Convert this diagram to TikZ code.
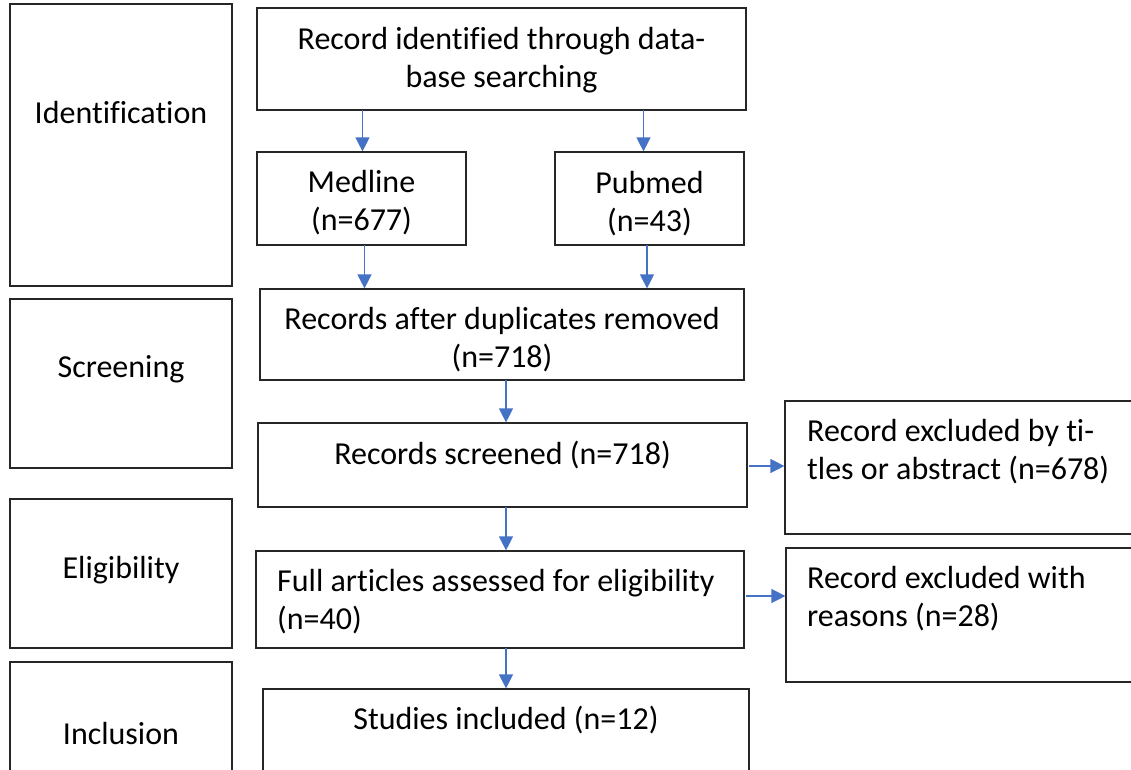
\documentclass[tikz,border=0pt]{standalone}
\usepackage{fontspec}
\setmainfont[Ligatures=NoCommon]{Carlito}
\usetikzlibrary{arrows.meta,calc}
\begin{document}
\begin{tikzpicture}[x=1pt,y=-1pt,
  box/.style={draw=black!85,line width=1.2pt,inner sep=0pt,fill=none},
  txt/.style={inner sep=0pt,font=\fontsize{32}{38}\selectfont,align=center},
  ltxt/.style={inner sep=0pt,font=\fontsize{32}{38}\selectfont,align=left,anchor=west},
  arr/.style={draw={rgb,255:red,68;green,114;blue,196},line width=1.3pt,
    -{Triangle[width=14pt,length=14pt]}}]
\useasboundingbox (0,0) rectangle (1131,769);
% phase boxes
\node[box,minimum width=222pt,minimum height=282pt] (idb) at (121,145) {};
\node[box,minimum width=222pt,minimum height=169pt] (scb) at (121,383.5) {};
\node[box,minimum width=222pt,minimum height=149pt] (elb) at (121,573.5) {};
\node[box,minimum width=222pt,minimum height=138pt] (inb) at (121,731) {};
\node[txt] (idt) at (121,113) {Identification};
\node[txt] (sct) at (121,369) {Screening};
\node[txt] (elt) at (121,570) {Eligibility};
\node[txt] (int) at (121,733) {Inclusion};
% flow boxes
\node[box,minimum width=489pt,minimum height=102pt] (top) at (501.5,59) {};
\node[box,minimum width=209pt,minimum height=93pt] (med) at (361.5,198.5) {};
\node[box,minimum width=189pt,minimum height=93pt] (pub) at (649.5,198.5) {};
\node[box,minimum width=484pt,minimum height=91pt] (recs) at (502,334.5) {};
\node[box,minimum width=489pt,minimum height=84pt] (scr) at (502.5,465) {};
\node[box,minimum width=360pt,minimum height=133pt] (ex1) at (965,467.5) {};
\node[box,minimum width=488pt,minimum height=97pt] (full) at (500,599.5) {};
\node[box,minimum width=359pt,minimum height=134pt] (ex2) at (965.5,615) {};
\node[box,minimum width=486pt,minimum height=111pt] (stu) at (506,744.5) {};
% texts
\node[txt] (topt) at (501.5,60) {Record identified through data-\\base searching};
\node[txt] (medt) at (361.5,203) {Medline\\(n=677)};
\node[txt] (pubt) at (649.5,204) {Pubmed\\(n=43)};
\node[txt] (recst) at (502,340) {Records after duplicates removed\\(n=718)};
\node[txt] (scrt) at (502.5,455) {Records screened (n=718)};
\node[ltxt] (ex1t) at (807,452) {Record excluded by ti-\\tles or abstract (n=678)};
\node[ltxt] (fullt) at (277,602) {Full articles assessed for eligibility\\(n=40)};
\node[ltxt] (ex2t) at (807,599) {Record excluded with\\reasons (n=28)};
\node[txt] (stut) at (506,720) {Studies included (n=12)};
% connector coordinates
\coordinate (a1) at (362.5,110);
\coordinate (a2) at (643.5,110);
\coordinate (a3) at (364.5,245);
\coordinate (a4) at (647,245);
\draw[arr] (a1) -- (a1 |- med.north);
\draw[arr] (a2) -- (a2 |- pub.north);
\draw[arr] (a3) -- (a3 |- recs.north);
\draw[arr] (a4) -- (a4 |- recs.north);
\coordinate (b1) at (506,380);
\coordinate (b2) at (506,507);
\coordinate (b3) at (506,648);
\draw[arr] (b1) -- (b1 |- scr.north);
\draw[arr] (b2) -- (b2 |- full.north);
\draw[arr] (b3) -- (b3 |- stu.north);
\coordinate (c1) at (749,466);
\coordinate (c2) at (746,596);
\draw[arr] (c1) -- (c1 -| ex1.west);
\draw[arr] (c2) -- (c2 -| ex2.west);
\end{tikzpicture}
\end{document}
